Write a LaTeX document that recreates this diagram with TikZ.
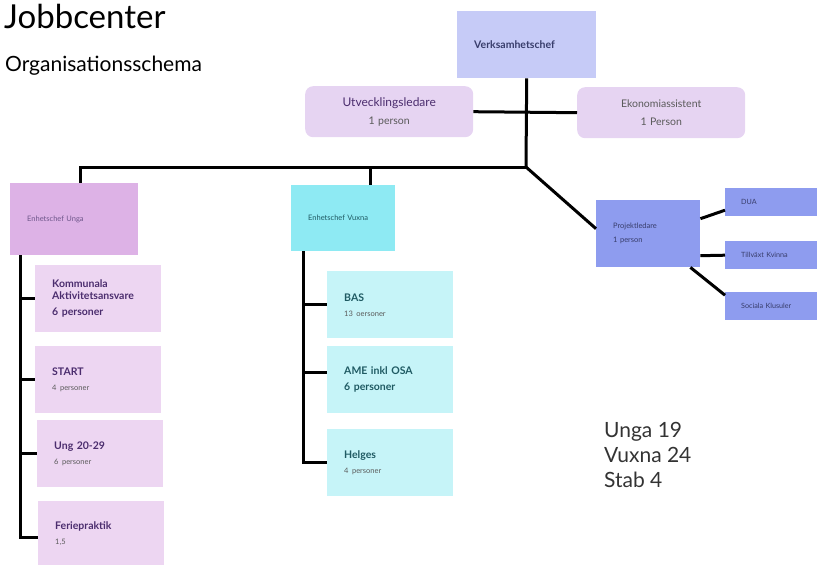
\documentclass[tikz,border=0pt]{standalone}
\usepackage{fontspec}
\setmainfont{Lato}
\definecolor{verkfill}{HTML}{C6CBF7}
\definecolor{stabfill}{HTML}{E6D4F2}
\definecolor{ungachef}{HTML}{DDB2E6}
\definecolor{ungafill}{HTML}{EDD6F2}
\definecolor{vuxnachef}{HTML}{8EEAF3}
\definecolor{vuxnafill}{HTML}{C6F4F8}
\definecolor{projfill}{HTML}{8E9CEF}
\definecolor{ungatext}{HTML}{4B2D6E}
\definecolor{vuxnatext}{HTML}{1F5A63}
\definecolor{projtext}{HTML}{383D6B}
\definecolor{greytext}{HTML}{5A5A5A}
\newcommand{\pers}[1]{\\[3pt]{\fontsize{7.5}{9}\selectfont\mdseries\color{greytext}#1}}
\tikzset{
  link/.style={line width=3pt},
  unit/.style={rectangle, anchor=north west, inner xsep=17pt, inner ysep=0pt, align=left},
  chefbox/.style={unit, fill=verkfill, minimum width=139pt, minimum height=67pt, text width=105pt,
    text=projtext, font=\fontsize{10.5}{12}\selectfont\bfseries},
  stabbox/.style={unit, fill=stabfill, rounded corners=8pt, inner xsep=9pt, align=center,
    minimum width=168pt, minimum height=51pt, text width=150pt, text=greytext,
    font=\fontsize{10.5}{18}\selectfont},
  ungachefbox/.style={unit, fill=ungachef, minimum width=128pt, minimum height=72pt, text width=94pt,
    text=ungatext!80, font=\fontsize{7.5}{9}\selectfont},
  ungbox/.style={unit, fill=ungafill, minimum width=126pt, minimum height=67pt, text width=92pt,
    text=ungatext, font=\fontsize{10.5}{12}\selectfont\bfseries},
  vuxnachefbox/.style={unit, fill=vuxnachef, minimum width=104pt, minimum height=66pt, text width=70pt,
    text=vuxnatext, font=\fontsize{7.5}{9}\selectfont},
  vuxbox/.style={unit, fill=vuxnafill, minimum width=126pt, minimum height=67pt, text width=92pt,
    text=vuxnatext, font=\fontsize{10.5}{12}\selectfont\bfseries},
  projbox/.style={unit, fill=projfill, minimum width=104pt, minimum height=67pt, text width=70pt,
    text=projtext, font=\fontsize{7.5}{14}\selectfont},
  smallbox/.style={unit, fill=projfill, inner xsep=16pt, minimum width=92pt, minimum height=28pt,
    text width=60pt, text=projtext, font=\fontsize{7.2}{9}\selectfont}
}
\begin{document}
\begin{tikzpicture}[x=1pt,y=-1pt]
\useasboundingbox (0,0) rectangle (817,565);
\node[anchor=base west, inner sep=0pt, font=\fontsize{33}{38}\selectfont] (jobb) at (4,28) {Jobbcenter};
\node[anchor=base west, inner sep=0pt, font=\fontsize{21}{24}\selectfont] (schema) at (5,71) {Organisationsschema};
\node[anchor=base west, inner sep=0pt, align=left, font=\fontsize{21}{25}\selectfont, text=black!80] (stats) at (604,487) {Unga 19\\Vuxna 24\\Stab 4};

\node[chefbox] (verk) at (457,11) {Verksamhetschef};
\node[stabbox] (utv) at (305,86) {{\color{ungatext}\fontsize{12}{15}\selectfont Utvecklingsledare}\\1 person};
\node[stabbox] (eko) at (577,87) {Ekonomiassistent\\1 Person};

\node[ungachefbox] (unga) at (10,183) {Enhetschef Unga};
\node[ungbox] (komm) at (35,265) {Kommunala\\Aktivitetsansvare\\[4pt]6 personer};
\node[ungbox] (start) at (35,346) {START\pers{4 personer}};
\node[ungbox] (ung) at (37,420) {Ung 20-29\pers{6 personer}};
\node[ungbox, minimum height=64pt] (feri) at (38,501) {Feriepraktik\pers{1,5}};

\node[vuxnachefbox] (vuxna) at (291,185) {Enhetschef Vuxna};
\node[vuxbox] (bas) at (327,271) {BAS\pers{13 oersoner}};
\node[vuxbox] (ame) at (327,346) {AME inkl OSA\\[4pt]6 personer};
\node[vuxbox] (helges) at (327,429) {Helges\pers{4 personer}};

\node[projbox] (proj) at (596,200) {Projektledare\\1 person};
\node[smallbox] (dua) at (725,188) {DUA};
\node[smallbox] (tillvaxt) at (725,241) {Tillväxt Kvinna};
\node[smallbox] (soc) at (725,292) {Sociala Klusuler};

\coordinate (bus) at (526,167);
\draw[link] (verk.south) -- (bus);
\draw[link] (utv.east) -- (eko.west);
\draw[link] (bus) -| ([xshift=6pt]unga.north);
\draw[link] ([xshift=27pt]vuxna.north) |- (bus);
\draw[link] (bus) -- ([yshift=5pt]proj.west);
\draw[link] ([yshift=15pt]proj.east) -- ([yshift=-8pt]dua.west);
\draw[link] ([yshift=-22pt]proj.east) -- (tillvaxt.west);
\draw[link] ([xshift=-10pt]proj.south east) -- ([yshift=11pt]soc.west);

\coordinate (ungaleg) at ([xshift=10pt]unga.south west);
\draw[link] (ungaleg) |- ([yshift=-4pt]feri.west);
\foreach \n in {komm,start,ung} \draw[link] (ungaleg |- \n.west) -- (\n.west);

\coordinate (vuxnaleg) at ([xshift=12pt]vuxna.south west);
\coordinate (amein) at ([yshift=7pt]ame.west);
\draw[link] (vuxnaleg) |- (helges.west);
\foreach \n in {bas.west,amein} \draw[link] (vuxnaleg |- \n) -- (\n);
\end{tikzpicture}
\end{document}
